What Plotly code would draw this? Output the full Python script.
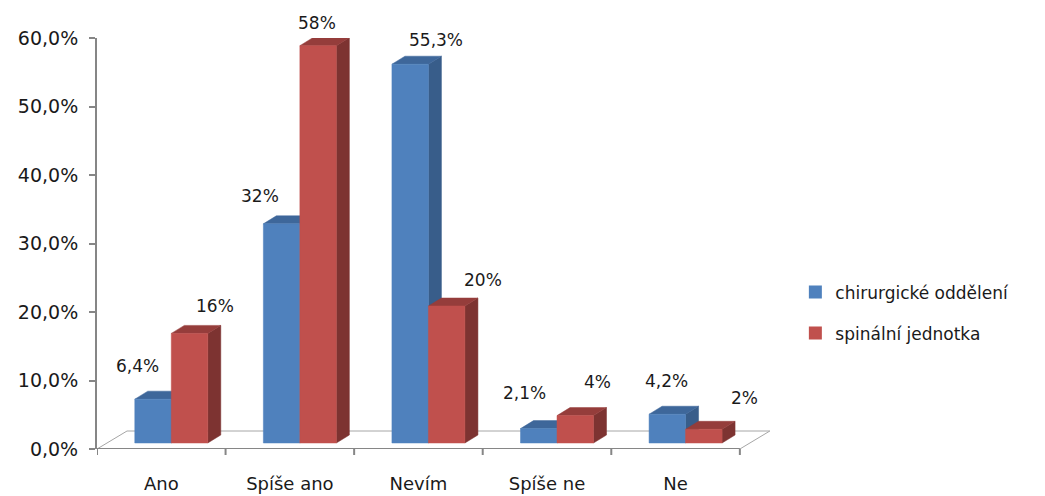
import plotly.graph_objects as go

# ---------------- data ----------------
categories = ["Ano", "Spíše ano", "Nevím", "Spíše ne", "Ne"]
chirurgicke = [6.4, 32, 55.3, 2.1, 4.2]
spinalni = [16, 58, 20, 4, 2]
series_names = ["chirurgické oddělení", "spinální jednotka"]
y_ticks = [0, 10, 20, 30, 40, 50, 60]

# ---------------- layout geometry / style ----------------
PAGE_OFF = 8  # page body margin
W, H = 1045 - PAGE_OFF, 496 - PAGE_OFF
ML, MT = 97 - PAGE_OFF, 38 - PAGE_OFF
PLOT_W, PLOT_H = 684, 411
MR = W - ML - PLOT_W
MB = H - MT - PLOT_H
X_MAX = 5.32
Y_MAX = 60
PX = PLOT_W / X_MAX  # px per x unit
PY = PLOT_H / Y_MAX  # px per y unit


def ux(p):
    return p / PX


def uy(p):
    return p / PY


FLOOR_D = (ux(30), uy(18))
BAR_SHIFT = (ux(10), uy(6))
BAR_D = (ux(13), uy(8))
BAR_W = ux(36.5)

STYLES = [
    dict(front="#4F81BD", top="#3E679A", side="#385D8A"),
    dict(front="#C0504D", top="#953D3B", side="#7D3331"),
]
# label offsets (px) relative to the top centre of each bar's front face
LABEL_SHIFT = [
    [(-16, -33), (-22, -28), (26, -24), (-14, -36), (-1, -33)],
    [(25, -27), (-1, -23), (36, -26), (22, -34), (41, -31)],
]
AXIS_GRAY = "#868686"
FLOOR_GRAY = "#A6A6A6"
TEXT = "#1A1A1A"
FONT = "DejaVu Sans"


def fmt(v):
    return f"{v:g}".replace(".", ",") + "%"


def fmt_tick(v):
    return f"{v:.1f}".replace(".", ",") + "%"


fig = go.Figure()

# floor
fdx, fdy = FLOOR_D
n = len(categories)
fig.add_trace(go.Scatter(
    x=[0, n, n + fdx, fdx, 0], y=[0, 0, fdy, fdy, 0],
    mode="lines", fill="toself", fillcolor="white",
    line=dict(color=FLOOR_GRAY, width=1),
    hoverinfo="skip", showlegend=False))
# front edge of floor (x axis line)
fig.add_trace(go.Scatter(
    x=[0, n], y=[0, 0], mode="lines",
    line=dict(color=AXIS_GRAY, width=2),
    hoverinfo="skip", showlegend=False))


def poly(xs, ys, color):
    fig.add_trace(go.Scatter(
        x=xs + [xs[0]], y=ys + [ys[0]], mode="lines", fill="toself",
        fillcolor=color, line=dict(color=color, width=0.5),
        hoverinfo="skip", showlegend=False))


annotations = []
sx, sy = BAR_SHIFT
ddx, ddy = BAR_D
for i in range(n):
    c = i + 0.5
    for s, vals in enumerate([chirurgicke, spinalni]):
        v = vals[i]
        st = STYLES[s]
        x0 = c + sx - BAR_W + s * BAR_W
        x1 = x0 + BAR_W
        b = sy
        t = sy + v
        # side
        poly([x1, x1 + ddx, x1 + ddx, x1], [b, b + ddy, t + ddy, t], st["side"])
        # top
        poly([x0, x1, x1 + ddx, x0 + ddx], [t, t, t + ddy, t + ddy], st["top"])
        # front
        poly([x0, x1, x1, x0], [b, b, t, t], st["front"])
        dx, dy = LABEL_SHIFT[s][i]
        annotations.append(dict(
            x=(x0 + x1) / 2, y=t, xref="x", yref="y", text=fmt(v),
            showarrow=False, xshift=dx, yshift=-dy,
            font=dict(family=FONT, size=17, color=TEXT)))

# legend entries
for s, name in enumerate(series_names):
    fig.add_trace(go.Scatter(
        x=[None], y=[None], mode="markers", name=name,
        legendgroup=f"g{s}",
        marker=dict(symbol="square", size=13, color=STYLES[s]["front"])))

# tick marks under the x axis at category boundaries
shapes = []
for i in range(n + 1):
    shapes.append(dict(type="line", xref="x", yref="paper", x0=i, x1=i,
                       y0=0, y1=-6 / PLOT_H,
                       line=dict(color=AXIS_GRAY, width=2)))

fig.update_layout(
    width=W, height=H,
    margin=dict(l=ML, r=MR, t=MT, b=MB, autoexpand=False),
    paper_bgcolor="white", plot_bgcolor="white",
    separators=", ",
    showlegend=True,
    legend=dict(x=1.021, y=0.331, xanchor="left", yanchor="middle",
                font=dict(family=FONT, size=17, color=TEXT),
                traceorder="grouped", tracegroupgap=16,
                bgcolor="rgba(0,0,0,0)"),
    xaxis=dict(range=[0, X_MAX], showgrid=False, zeroline=False,
               showline=False, ticks="", automargin=False,
               tickmode="array", tickvals=[i + 0.5 for i in range(n)],
               ticktext=categories, ticklabelstandoff=22,
               tickfont=dict(family=FONT, size=18, color=TEXT)),
    yaxis=dict(range=[0, Y_MAX], showgrid=False, zeroline=False,
               showline=True, linecolor=AXIS_GRAY, linewidth=2,
               ticks="outside", ticklen=6, tickcolor=AXIS_GRAY, tickwidth=2,
               automargin=False, ticklabelstandoff=7,
               tickmode="array", tickvals=y_ticks,
               ticktext=[fmt_tick(v) for v in y_ticks],
               tickfont=dict(family=FONT, size=19, color=TEXT)),
    annotations=annotations,
    shapes=shapes,
)

fig.write_html("out.html")
